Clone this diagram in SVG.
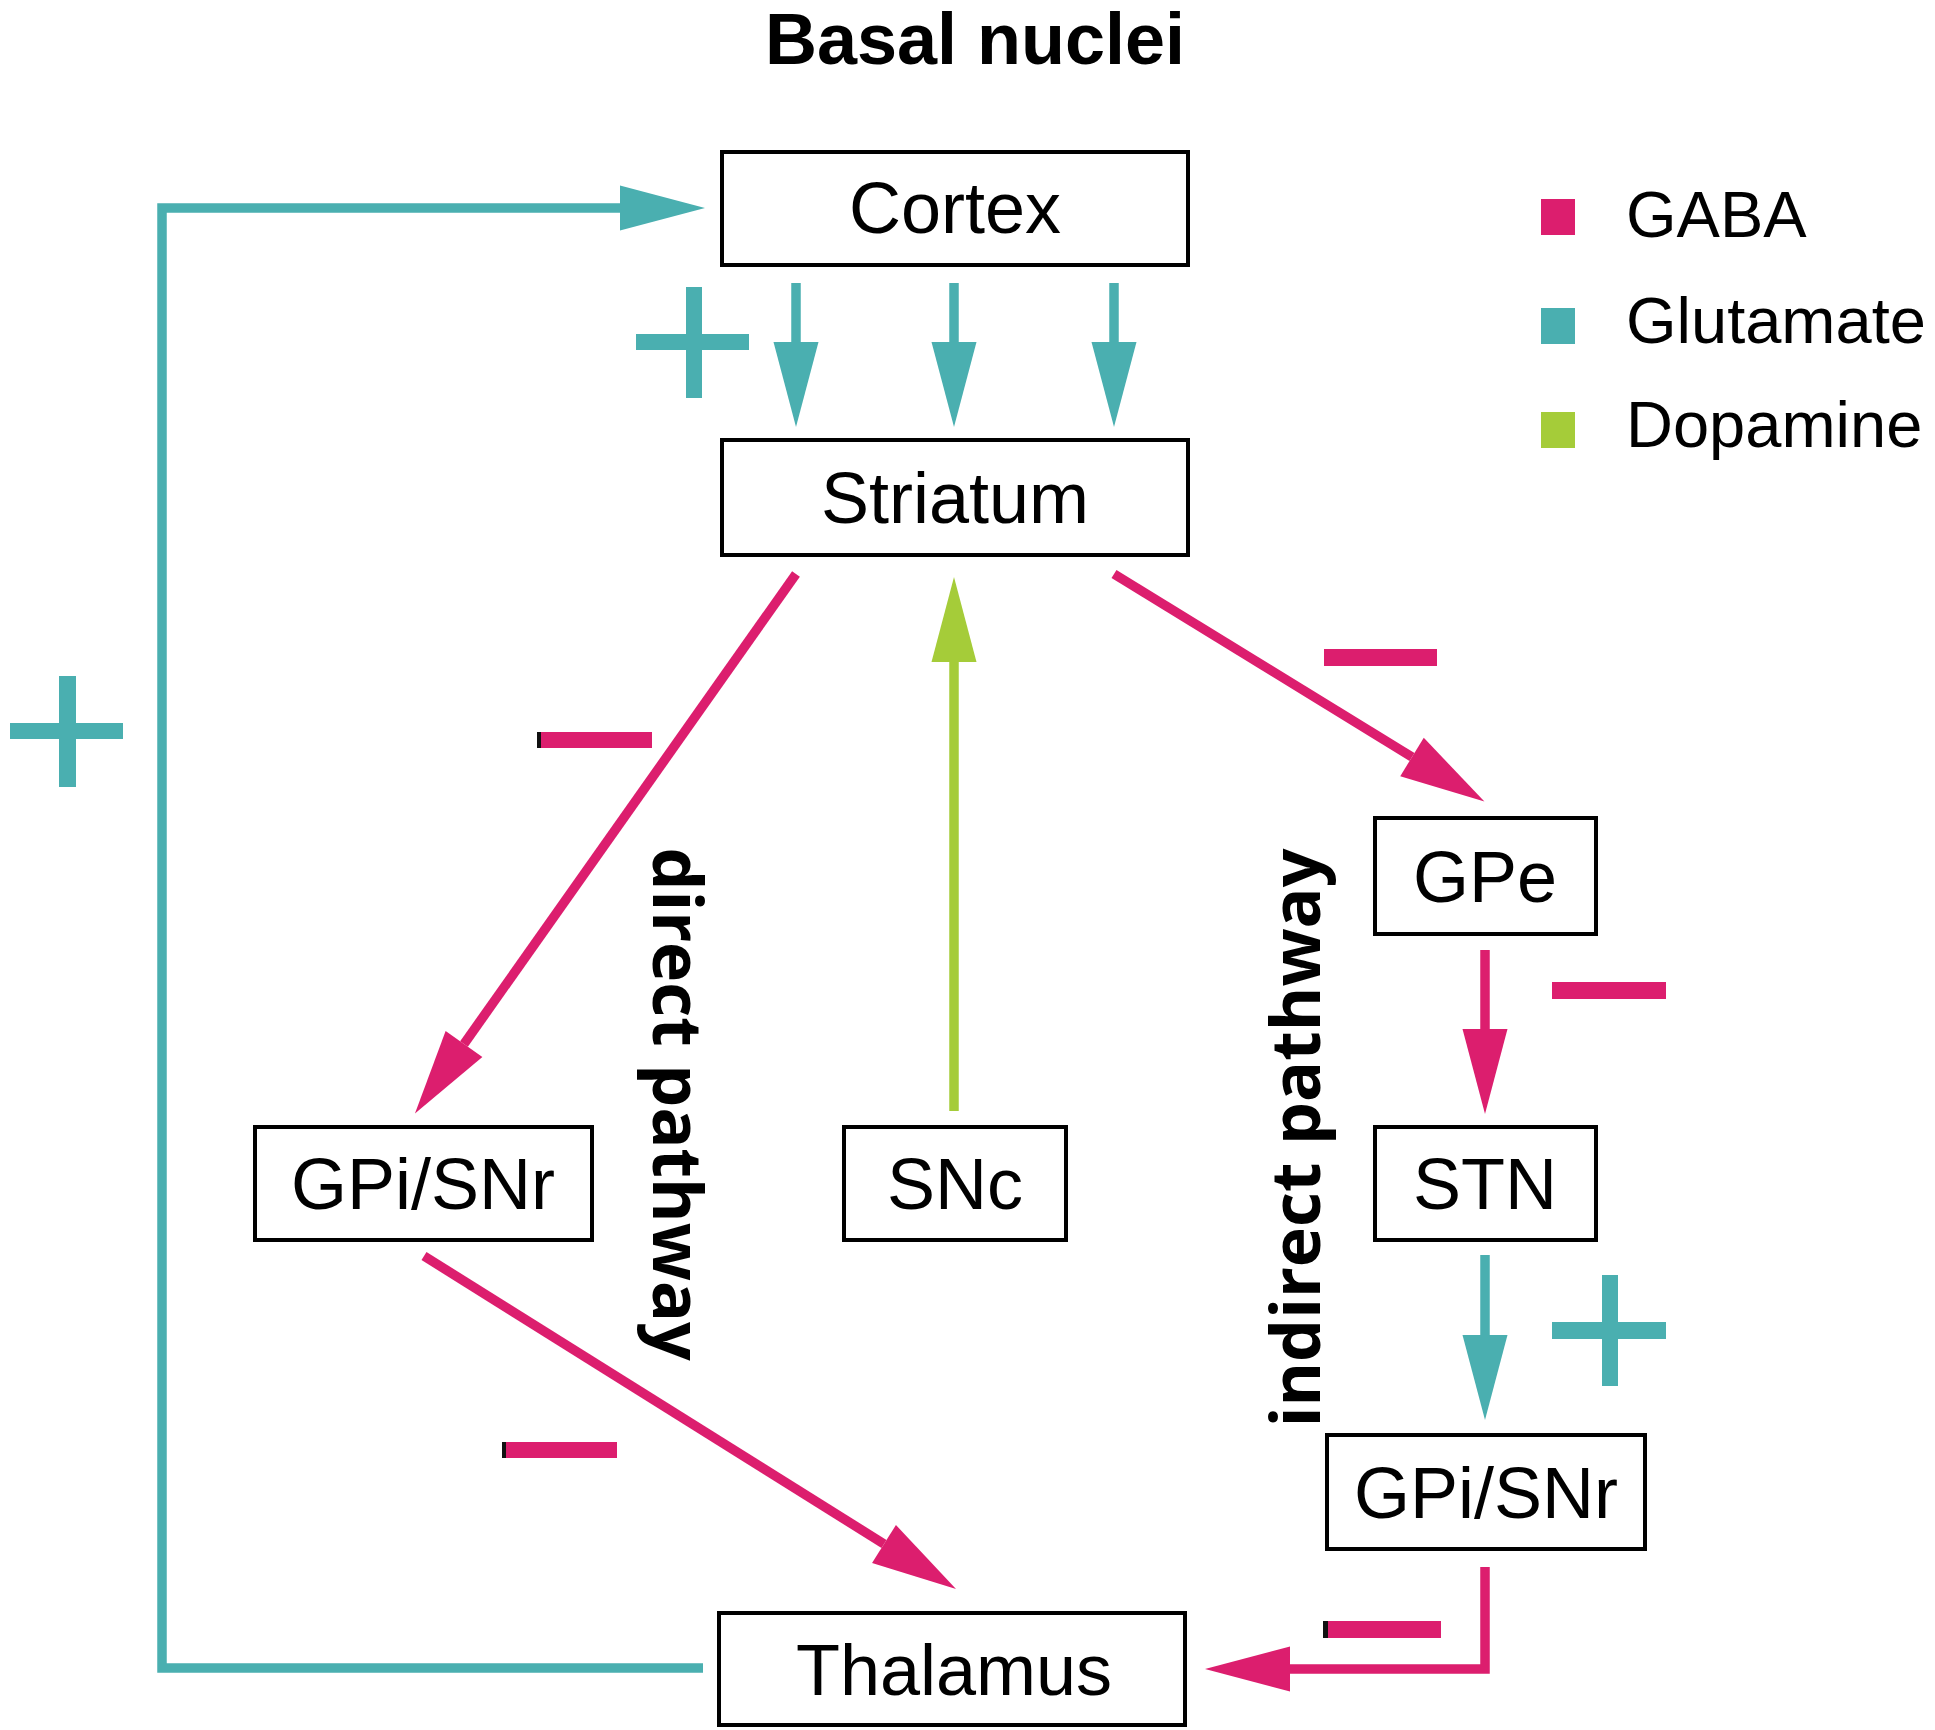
<svg xmlns="http://www.w3.org/2000/svg" width="1935" height="1730" viewBox="0 0 1935 1730">
<style>
.box{fill:#fff;stroke:#000;stroke-width:4}
.lbl{font-family:"Liberation Sans",Arial,sans-serif;font-size:72px;fill:#000;text-anchor:middle}
.leg{font-family:"Liberation Sans",Arial,sans-serif;font-size:65px;fill:#000}
.path{font-family:"Open Sans","Noto Sans",sans-serif;font-size:68px;font-weight:bold;fill:#000;text-anchor:middle}
.title{font-family:"Liberation Sans",Arial,sans-serif;font-size:72px;font-weight:bold;fill:#000;text-anchor:middle}
.glu{stroke:#4AAFB0;stroke-width:9.5;fill:none}
.gaba{stroke:#DC1E6E;stroke-width:9.5;fill:none}
.dopa{stroke:#A5CC39;stroke-width:9.5;fill:none}
.m{fill:#DC1E6E}
.p{fill:#4AAFB0}
</style>
<defs>
<marker id="hGlu" markerUnits="userSpaceOnUse" markerWidth="86" markerHeight="46" refX="0" refY="22.5" orient="auto" overflow="visible"><path d="M0,0 L85,22.5 L0,45 Z" fill="#4AAFB0"/></marker>
<marker id="hGaba" markerUnits="userSpaceOnUse" markerWidth="86" markerHeight="46" refX="0" refY="22.5" orient="auto" overflow="visible"><path d="M0,0 L85,22.5 L0,45 Z" fill="#DC1E6E"/></marker>
<marker id="hDopa" markerUnits="userSpaceOnUse" markerWidth="86" markerHeight="46" refX="0" refY="22.5" orient="auto" overflow="visible"><path d="M0,0 L85,22.5 L0,45 Z" fill="#A5CC39"/></marker>
</defs>
<rect width="1935" height="1730" fill="#fff"/>
<text class="title" x="975" y="64">Basal nuclei</text>

<g id="connectors">
<path class="glu" d="M703,1668 H162 V208 H620" marker-end="url(#hGlu)"/>
<line class="glu" x1="796" y1="283" x2="796" y2="342" marker-end="url(#hGlu)"/>
<line class="glu" x1="954" y1="283" x2="954" y2="342" marker-end="url(#hGlu)"/>
<line class="glu" x1="1114" y1="283" x2="1114" y2="342" marker-end="url(#hGlu)"/>
<line class="gaba" x1="796" y1="574" x2="464" y2="1044" marker-end="url(#hGaba)"/>
<line class="gaba" x1="1114" y1="574" x2="1412" y2="757" marker-end="url(#hGaba)"/>
<line class="dopa" x1="954" y1="1111" x2="954" y2="662" marker-end="url(#hDopa)"/>
<line class="gaba" x1="1485" y1="950" x2="1485" y2="1029" marker-end="url(#hGaba)"/>
<line class="glu" x1="1485" y1="1255" x2="1485" y2="1335" marker-end="url(#hGlu)"/>
<line class="gaba" x1="424" y1="1256" x2="884" y2="1544" marker-end="url(#hGaba)"/>
<path class="gaba" d="M1485,1567 V1669 H1290" marker-end="url(#hGaba)"/>
</g>

<g id="signs">
<rect class="p" x="636" y="334" width="113" height="16"/>
<rect class="p" x="686" y="287" width="16" height="111"/>
<rect class="p" x="10" y="723" width="113" height="16"/>
<rect class="p" x="59" y="676" width="17" height="111"/>
<rect class="p" x="1552" y="1322" width="114" height="17"/>
<rect class="p" x="1602" y="1275" width="16" height="111"/>
<rect class="m" x="537" y="732" width="115" height="16"/>
<rect x="537" y="732" width="4" height="16" fill="#111"/>
<rect class="m" x="1324" y="649" width="113" height="17"/>
<rect class="m" x="1552" y="982" width="114" height="17"/>
<rect class="m" x="502" y="1442" width="115" height="16"/>
<rect x="502" y="1442" width="4" height="16" fill="#111"/>
<rect class="m" x="1323" y="1621" width="118" height="17"/>
<rect x="1323" y="1621" width="5" height="17" fill="#111"/>
</g>

<g id="cortex"><rect class="box" x="722" y="152" width="466" height="113"/><text class="lbl" x="955" y="233">Cortex</text></g>
<g id="striatum"><rect class="box" x="722" y="440" width="466" height="115"/><text class="lbl" x="955" y="523">Striatum</text></g>
<g id="gpe"><rect class="box" x="1375" y="818" width="221" height="116"/><text class="lbl" x="1485" y="902">GPe</text></g>
<g id="gpi-snr-direct"><rect class="box" x="255" y="1127" width="337" height="113"/><text class="lbl" x="423" y="1209">GPi/SNr</text></g>
<g id="snc"><rect class="box" x="844" y="1127" width="222" height="113"/><text class="lbl" x="955" y="1209">SNc</text></g>
<g id="stn"><rect class="box" x="1375" y="1127" width="221" height="113"/><text class="lbl" x="1485" y="1209">STN</text></g>
<g id="gpi-snr-indirect"><rect class="box" x="1327" y="1435" width="318" height="114"/><text class="lbl" x="1486" y="1518">GPi/SNr</text></g>
<g id="thalamus"><rect class="box" x="719" y="1613" width="466" height="112"/><text class="lbl" x="954" y="1695">Thalamus</text></g>

<g id="pathway-labels">
<text class="path" transform="translate(653,1104) rotate(90)">direct pathway</text>
<text class="path" transform="translate(1320,1138) rotate(-90)">indirect pathway</text>
</g>

<g id="legend">
<rect x="1541" y="199" width="34" height="36" fill="#DC1E6E"/>
<text class="leg" x="1626" y="237">GABA</text>
<rect x="1541" y="308" width="34" height="36" fill="#4AAFB0"/>
<text class="leg" x="1626" y="343">Glutamate</text>
<rect x="1541" y="412" width="34" height="36" fill="#A5CC39"/>
<text class="leg" x="1626" y="447">Dopamine</text>
</g>
</svg>
